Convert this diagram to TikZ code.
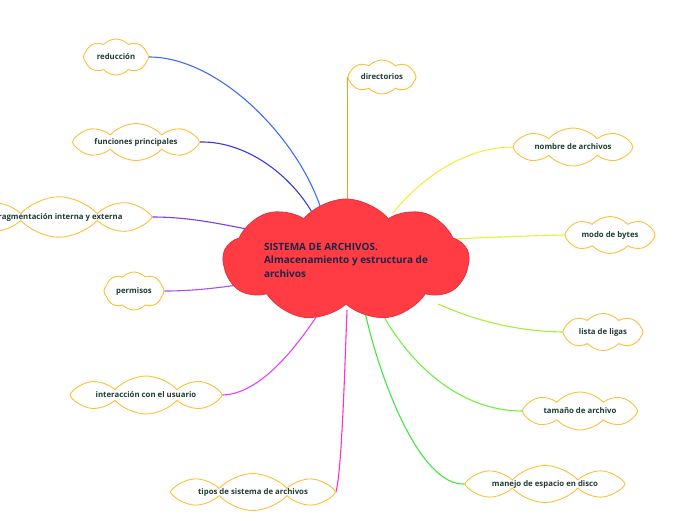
\documentclass[tikz,border=0pt]{standalone}
\usepackage{fontspec}
\setmainfont{Open Sans}
\usetikzlibrary{shapes.symbols,backgrounds}
\definecolor{rootfill}{HTML}{FF3B44}
\definecolor{rootdraw}{HTML}{E6323C}
\definecolor{roottext}{HTML}{1C2548}
\definecolor{leafdraw}{HTML}{FFBE3A}
\definecolor{leaftext}{HTML}{1F3D33}
\definecolor{cA}{HTML}{3D6BFF}
\definecolor{cB}{HTML}{3838E0}
\definecolor{cC}{HTML}{7A3CF0}
\definecolor{cD}{HTML}{AA4CFF}
\definecolor{cE}{HTML}{E040FF}
\definecolor{cF}{HTML}{FF30D0}
\definecolor{cG}{HTML}{FF9A1A}
\definecolor{cH}{HTML}{FFE83A}
\definecolor{cI}{HTML}{DDF53A}
\definecolor{cJ}{HTML}{A0F03A}
\definecolor{cK}{HTML}{70F040}
\definecolor{cL}{HTML}{40E840}
\tikzset{
  rootcloud/.style={cloud, cloud puffs=9, cloud puff arc=100, cloud ignores aspect,
    fill=rootfill, draw=rootdraw, line width=0.8pt, minimum width=246pt, minimum height=122pt,
    inner sep=0pt, text=roottext, font=\fontsize{10}{13.5}\selectfont\bfseries, align=left},
  leaf/.style={cloud, cloud puffs=8, cloud puff arc=95, cloud ignores aspect,
    fill=white, draw=leafdraw, line width=0.9pt, inner sep=0pt,
    text=leaftext, font=\fontsize{7.8}{9}\selectfont\bfseries},
  conn/.style={line width=1.1pt}
}
\begin{document}
\begin{tikzpicture}[x=1pt,y=-1pt]
\useasboundingbox (0,0) rectangle (696,520);
\node[rootcloud] (root) at (346,260) {SISTEMA DE ARCHIVOS.\\Almacenamiento y estructura de\\archivos};
\node[leaf, minimum width=65pt, minimum height=36pt] (n1) at (116,57) {reducción};
\node[leaf, minimum width=127pt, minimum height=37pt] (n2) at (136,142) {funciones principales};
\node[leaf, minimum width=186pt, minimum height=37pt] (n3) at (59,217) {fragmentación interna y externa};
\node[leaf, minimum width=60pt, minimum height=38pt] (n4) at (134,291) {permisos};
\node[leaf, minimum width=152pt, minimum height=38pt] (n5) at (146,395) {interacción con el usuario};
\node[leaf, minimum width=165pt, minimum height=37pt] (n6) at (253,492) {tipos de sistema de archivos};
\node[leaf, minimum width=68pt, minimum height=34pt] (n7) at (382,77) {directorios};
\node[leaf, minimum width=120pt, minimum height=38pt] (n8) at (573,147) {nombre de archivos};
\node[leaf, minimum width=90pt, minimum height=37pt] (n9) at (610,235) {modo de bytes};
\node[leaf, minimum width=80pt, minimum height=37pt] (n10) at (603,332) {lista de ligas};
\node[leaf, minimum width=115pt, minimum height=38pt] (n11) at (580,411) {tamaño de archivo};
\node[leaf, minimum width=160pt, minimum height=37pt] (n12) at (545,484) {manejo de espacio en disco};
\coordinate (e1) at (322,212);
\coordinate (e2) at (314,216);
\coordinate (e3) at (252,230);
\coordinate (e4) at (252,283);
\coordinate (e5) at (326,302);
\coordinate (e6) at (347,310);
\coordinate (e8) at (393,213);
\coordinate (e9) at (434,240);
\coordinate (e10) at (438,304);
\coordinate (e11) at (380,310);
\coordinate (e12) at (365,312);
\begin{scope}[on background layer]
\draw[conn, cA] (n1.east) .. controls (220,57) and (300,140) .. (e1);
\draw[conn, cB] (n2.east) .. controls (250,141) and (295,180) .. (e2);
\draw[conn, cC] (n3.east) .. controls (190,217) and (220,224) .. (e3);
\draw[conn, cD] (n4.east) .. controls (200,291) and (230,286) .. (e4);
\draw[conn, cE] (n5.east) .. controls (265,394) and (305,335) .. (e5);
\draw[conn, cF] (n6.east) .. controls (342,470) and (345,360) .. (e6);
\draw[conn, cG] (n7.west) -- (n7.west |- root.center);
\draw[conn, cH] (n8.west) .. controls (460,147) and (415,185) .. (e8);
\draw[conn, cI] (n9.west) .. controls (520,236) and (470,238) .. (e9);
\draw[conn, cJ] (n10.west) .. controls (510,331) and (470,318) .. (e10);
\draw[conn, cK] (n11.west) .. controls (460,411) and (410,365) .. (e11);
\draw[conn, cL] (n12.west) .. controls (420,486) and (380,380) .. (e12);
\end{scope}
\end{tikzpicture}
\end{document}
